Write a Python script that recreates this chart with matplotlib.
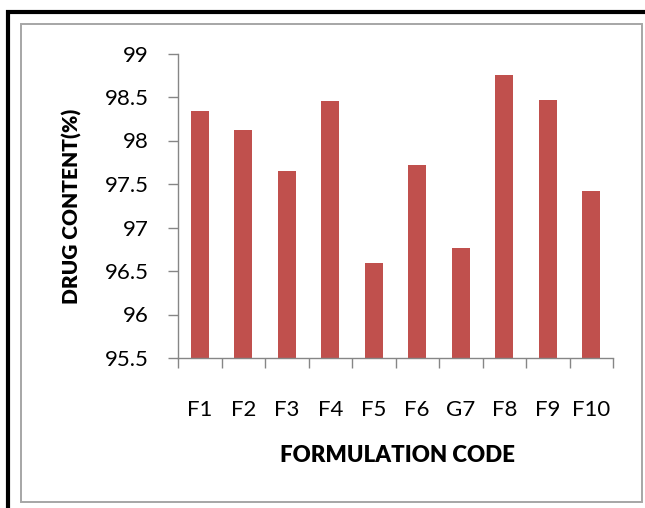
import matplotlib
matplotlib.use("Agg")
import matplotlib.pyplot as plt
from matplotlib.patches import Rectangle

# ------------------------
# Data
# ------------------------
codes = ["F1", "F2", "F3", "F4", "F5", "F6", "G7", "F8", "F9", "F10"]
drug_content = [98.34, 98.12, 97.65, 98.45, 96.59, 97.72, 96.76, 98.75, 98.47, 97.42]
y_ticks = [95.5, 96, 96.5, 97, 97.5, 98, 98.5, 99]
y_tick_labels = ["95.5", "96", "96.5", "97", "97.5", "98", "98.5", "99"]

BAR_COLOR = "#C0504D"
AXIS_COLOR = "#868686"

plt.rcParams['font.family'] = ['Lato', 'DejaVu Sans']

fig = plt.figure(figsize=(6.45, 5.08), dpi=100)
W, H = 645, 508

# outer black frame (cropped at right/bottom)
fig.patches.append(Rectangle((8 / W, -0.05), (643 - 8) / W + 0.05, (508 - 12) / H + 0.05,
                             transform=fig.transFigure, fill=False,
                             edgecolor="black", linewidth=3.0))
# inner gray chart-area border
fig.patches.append(Rectangle((21 / W, 1 - 502 / H), (642 - 21) / W, (502 - 24) / H,
                             transform=fig.transFigure, fill=False,
                             edgecolor="#A6A6A6", linewidth=1.4))

ax = fig.add_axes([178 / W, 1 - 358 / H, (613 - 178) / W, (358 - 53.5) / H])

x = range(len(codes))
ax.bar(x, [v - 95.5 for v in drug_content], bottom=95.5, width=0.425,
       color=BAR_COLOR, edgecolor="none")

ax.set_xlim(-0.5, len(codes) - 0.5)
ax.set_ylim(95.5, 99)
ax.set_yticks(y_ticks)
ax.set_yticklabels(y_tick_labels, fontsize=16)
ax.set_xticks(list(x))
ax.set_xticklabels(codes, fontsize=16)
ax.set_xticks([i - 0.5 for i in range(len(codes) + 1)], minor=True)

for s in ["top", "right"]:
    ax.spines[s].set_visible(False)
for s in ["left", "bottom"]:
    ax.spines[s].set_color(AXIS_COLOR)
    ax.spines[s].set_linewidth(1.0)

ax.tick_params(axis="x", which="major", length=0, pad=30)
ax.tick_params(axis="x", which="minor", length=7, color=AXIS_COLOR, width=1.0)
ax.tick_params(axis="y", length=7, color=AXIS_COLOR, width=1.0, pad=14)

fig.text(397 / W, 1 - 455 / H, "FORMULATION CODE", ha="center", va="center",
         fontsize=16, fontweight="heavy")
fig.text(72 / W, 1 - 206 / H, "DRUG CONTENT(%)", ha="center", va="center",
         rotation=90, fontsize=15, fontweight="heavy")

fig.savefig("out.png", dpi=100)
